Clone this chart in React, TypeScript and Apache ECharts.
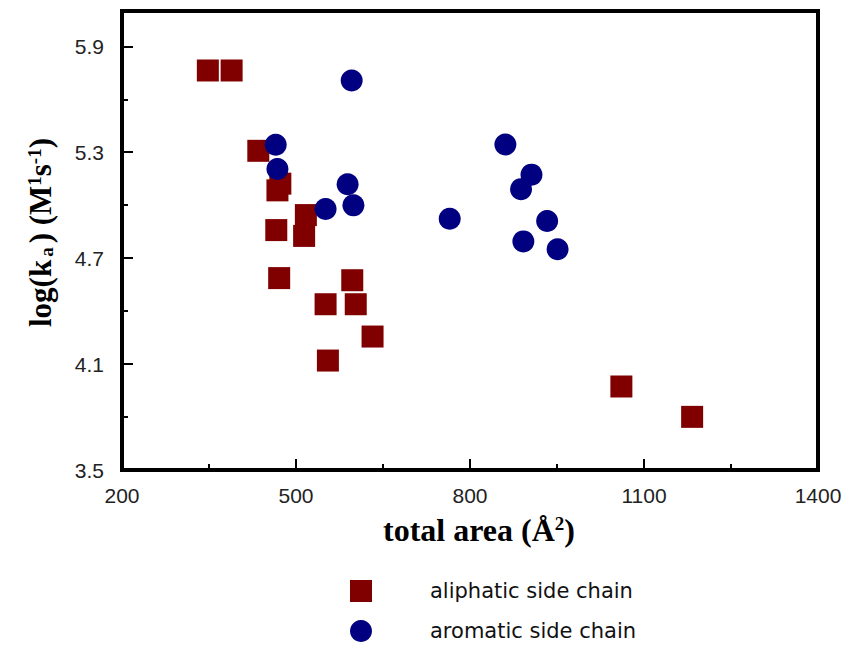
import React, { useEffect, useRef } from "react";
import * as echarts from "echarts";

const aliphaticX = [348, 389, 435, 473, 468, 517, 514, 466, 471, 597, 603, 551, 632, 555, 1061, 1183];
const aliphaticY = [5.763, 5.763, 5.308, 5.122, 5.084, 4.944, 4.826, 4.859, 4.587, 4.575, 4.439, 4.439, 4.256, 4.12, 3.973, 3.801];

const aromaticX = [465, 468, 551, 589, 599, 596, 861, 906, 888, 765, 933, 892, 951];
const aromaticY = [5.342, 5.205, 4.978, 5.119, 4.999, 5.706, 5.344, 5.173, 5.091, 4.923, 4.911, 4.795, 4.75];

const seriesNames = ["aliphatic side chain", "aromatic side chain"];

const xMin = 200, xMax = 1400, xMajor = 300;
const yMin = 3.5, yMax = 6.1, yMajor = 0.6, yLabelMax = 5.9;

const isMajor = (v: number, base: number, step: number) => {
  const k = (v - base) / step;
  return Math.abs(k - Math.round(k)) < 1e-6;
};

const tickFont = "'Liberation Sans', Arial, sans-serif";
const titleFont = "'Liberation Serif', 'Times New Roman', serif";
const legendText = {
  fontFamily: "'DejaVu Sans', sans-serif",
  fontSize: 21,
  color: "#111",
  padding: [0, 0, 0, 53],
};

export default function App() {
  const ref = useRef<HTMLDivElement>(null);
  useEffect(() => {
    if (!ref.current) return;
    const chart = echarts.init(ref.current, undefined, { renderer: "svg" });
    const zip = (xs: number[], ys: number[]) => xs.map((x, i) => [x, ys[i]]);
    chart.setOption({
      animation: false,
      backgroundColor: "#fff",
      grid: {
        left: 122,
        top: 11,
        right: 31,
        bottom: 177,
        show: true,
        borderColor: "#000",
        borderWidth: 4,
        backgroundColor: "transparent",
      },
      legend: [
        {
          left: 345,
          top: 575,
          itemWidth: 22,
          itemHeight: 22,
          data: [{ name: seriesNames[0], icon: "rect" }],
          textStyle: legendText,
        },
        {
          left: 345,
          top: 615,
          itemWidth: 22,
          itemHeight: 22,
          data: [{ name: seriesNames[1], icon: "circle" }],
          textStyle: legendText,
        },
      ],
      xAxis: [
        {
          type: "value",
          min: xMin,
          max: xMax,
          interval: xMajor / 2,
          axisLine: { show: true, lineStyle: { color: "#000", width: 4 } },
          axisTick: { show: true, inside: true, length: 6, lineStyle: { color: "#000", width: 2 } },
          axisLabel: {
            margin: 15,
            fontFamily: tickFont,
            fontSize: 21,
            color: "#222",
            formatter: (v: number) => (isMajor(v, xMin, xMajor) ? String(Math.round(v)) : ""),
          },
          splitLine: { show: false },
          name: "total area (Å{sup|2})",
          nameLocation: "middle",
          nameGap: 44,
          nameTextStyle: {
            fontFamily: titleFont,
            fontWeight: "bold",
            fontSize: 32,
            color: "#000",
            padding: [0, 0, 0, 18],
            rich: {
              sup: { fontFamily: titleFont, fontWeight: "bold", fontSize: 19, verticalAlign: "top", color: "#000" },
            },
          },
        },
        {
          type: "value",
          min: xMin,
          max: xMax,
          interval: xMajor,
          position: "bottom",
          axisLine: { show: false },
          axisTick: { show: true, inside: true, length: 11, lineStyle: { color: "#000", width: 2 } },
          axisLabel: { show: false },
          splitLine: { show: false },
        },
      ],
      yAxis: [
        {
          type: "value",
          min: yMin,
          max: yMax,
          interval: yMajor / 2,
          axisLine: { show: true, lineStyle: { color: "#000", width: 4 } },
          axisTick: { show: true, inside: true, length: 6, lineStyle: { color: "#000", width: 2 } },
          axisLabel: {
            margin: 18,
            fontFamily: tickFont,
            fontSize: 21,
            color: "#222",
            formatter: (v: number) =>
              isMajor(v, yMin, yMajor) && v <= yLabelMax + 1e-6 ? v.toFixed(1) : "",
          },
          splitLine: { show: false },
          name: "log(k{sub|a}) (M{sup|1}s{sup|-1})",
          nameLocation: "middle",
          nameRotate: 90,
          nameGap: 66,
          nameTextStyle: {
            fontFamily: titleFont,
            fontWeight: "bold",
            fontSize: 31,
            color: "#000",
            padding: [0, 0, 0, 16],
            rich: {
              sup: { fontFamily: titleFont, fontWeight: "bold", fontSize: 19, verticalAlign: "top", color: "#000" },
              sub: { fontFamily: titleFont, fontWeight: "bold", fontSize: 19, verticalAlign: "bottom", color: "#000", padding: [0, 4, 0, 3] },
            },
          },
        },
        {
          type: "value",
          min: yMin,
          max: yMax,
          interval: yMajor,
          position: "left",
          offset: 0,
          axisLine: { show: false },
          axisTick: { show: true, inside: true, length: 11, lineStyle: { color: "#000", width: 2 } },
          axisLabel: { show: false },
          splitLine: { show: false },
        },
      ],
      series: [
        {
          name: seriesNames[0],
          type: "scatter",
          symbol: "rect",
          symbolSize: 22,
          itemStyle: { color: "#800000", opacity: 1 },
          data: zip(aliphaticX, aliphaticY),
        },
        {
          name: seriesNames[1],
          type: "scatter",
          symbol: "circle",
          symbolSize: 22,
          itemStyle: { color: "#000080", opacity: 1 },
          data: zip(aromaticX, aromaticY),
        },
      ],
    });
    return () => chart.dispose();
  }, []);
  return (
    <div
      ref={ref}
      style={{ position: "fixed", left: 0, top: 0, width: 849, height: 647, background: "#fff" }}
    />
  );
}
